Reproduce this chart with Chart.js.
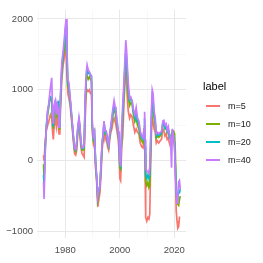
<!DOCTYPE html>
<html>
<head>
<meta charset="utf-8">
<script src="https://cdn.jsdelivr.net/npm/chart.js@4"></script>
<style>
  html, body { margin: 0; padding: 0; background: #fff; }
  #wrap { position: relative; width: 263px; height: 263px; font-family: "Liberation Sans", Arial, sans-serif; }
  #c { position: absolute; left: 0; top: 0; }
  .lg-title { position: absolute; left: 203px; top: 79px; font-size: 11px; line-height: 14px; color: #000; }
  .lg-item { position: absolute; left: 205px; height: 12px; width: 58px; }
  .lg-key { position: absolute; left: 1px; top: 5px; width: 14px; height: 0; border-top-style: solid; border-top-width: 2px; }
  .lg-text { position: absolute; left: 23px; top: 0; font-size: 9px; line-height: 12px; color: #1a1a1a; white-space: nowrap; }
</style>
</head>
<body>
<div id="wrap">
  <canvas id="c" width="263" height="263"></canvas>
  <div id="legend"></div>
</div>
<script>
const legendTitle = "label";
const seriesLabels = ["m=5", "m=10", "m=20", "m=40"];
const seriesColors = ["#F8766D", "#7CAE00", "#00BFC4", "#C77CFF"];
const yTickValues = [-1000, -500, 0, 500, 1000, 1500, 2000];
const xTickValues = [1970, 1980, 1990, 2000, 2010, 2020];

const years = [1972.0,1972.2,1972.6,1973.0,1973.5,1973.9,1974.3,1974.6,1975.0,1975.3,1975.6,1975.9,1976.3,1976.7,1977.0,1977.4,1977.7,1978.0,1978.3,1978.7,1979.2,1979.6,1980.0,1980.3,1980.6,1980.9,1981.3,1981.7,1982.1,1982.5,1983.0,1983.4,1983.8,1984.2,1984.6,1985.0,1985.3,1985.7,1986.1,1986.5,1986.9,1987.3,1987.7,1988.0,1988.4,1988.8,1989.2,1989.6,1989.9,1990.3,1990.7,1991.1,1991.5,1991.9,1992.3,1992.7,1993.1,1993.5,1993.9,1994.2,1994.6,1995.0,1995.5,1995.9,1996.3,1996.7,1997.1,1997.5,1997.9,1998.3,1998.6,1999.0,1999.4,1999.7,2000.0,2000.3,2000.7,2001.1,2001.5,2001.9,2002.2,2002.5,2002.8,2003.1,2003.6,2004.0,2004.5,2005.0,2005.5,2006.0,2006.5,2007.0,2007.5,2008.0,2008.5,2008.9,2009.1,2009.3,2009.5,2009.9,2010.3,2010.7,2011.0,2011.3,2011.6,2011.9,2012.2,2012.6,2013.0,2013.4,2013.8,2014.3,2014.8,2015.3,2015.8,2016.2,2016.6,2017.0,2017.4,2017.8,2018.2,2018.6,2019.0,2019.3,2019.7,2020.1,2020.4,2020.7,2021.0,2021.3,2021.6,2021.9,2022.2];

const m5  = [80,0,250,420,500,550,620,650,600,420,300,500,600,480,600,500,380,450,800,1150,1350,1450,1600,1500,1200,950,880,800,650,480,250,100,80,150,400,480,420,200,100,80,50,600,950,1000,980,1000,950,950,400,250,350,-100,-300,-650,-550,-450,-200,150,300,450,300,350,200,150,300,400,450,550,600,550,500,400,300,150,-250,-280,200,350,800,1100,1250,1100,850,700,600,650,620,500,400,450,400,380,250,200,180,300,350,-200,-800,-850,-800,-820,-750,-100,400,600,550,450,400,250,280,250,280,300,450,420,350,380,300,320,250,200,250,350,300,200,-100,-700,-850,-950,-930,-800,-800];
const m10 = [-50,-250,200,450,650,750,850,870,850,600,450,650,750,600,720,650,450,600,900,1250,1450,1550,1750,1700,1400,1050,1000,880,700,520,300,150,130,230,450,550,480,250,150,150,160,800,1150,1200,1150,1180,1150,1120,480,300,380,-50,-250,-550,-450,-350,-100,220,350,520,380,400,250,200,350,450,550,650,720,700,600,500,380,250,-100,-120,350,600,950,1300,1450,1300,1100,900,780,820,800,650,550,600,500,450,320,280,250,400,500,100,-300,-350,-300,-380,-350,100,500,800,750,600,500,320,350,330,350,380,500,520,450,470,400,450,350,320,380,420,420,380,100,-450,-600,-600,-630,-550,-500];
const m20 = [-200,-350,150,470,700,780,880,900,880,620,480,720,830,800,820,830,480,620,950,1300,1500,1600,1850,1900,1500,1100,1050,900,720,550,320,170,150,260,470,580,500,270,170,170,190,850,1200,1280,1230,1240,1200,1180,500,330,390,-20,-220,-520,-420,-350,-80,240,380,540,400,410,260,210,370,470,580,700,780,720,650,540,400,280,-50,-80,400,700,1000,1350,1550,1450,1200,1000,850,870,840,700,600,680,550,520,380,320,300,450,600,200,-200,-250,-200,-250,-200,200,600,900,850,650,550,350,380,360,370,400,520,530,460,480,410,420,330,300,300,400,350,250,-100,-400,-550,-500,-450,-450,-400];
const m40 = [-300,-540,100,460,700,800,960,1050,1170,700,520,780,840,650,800,720,470,650,1000,1380,1550,1700,1900,2000,1600,1150,1100,920,750,560,330,180,160,280,480,610,520,280,190,180,220,900,1250,1350,1280,1260,1220,1200,520,350,400,0,-230,-500,-400,-370,-50,250,400,560,420,420,280,220,380,490,620,750,850,760,700,560,420,300,0,-80,500,800,1100,1450,1700,1550,1300,1100,880,900,850,720,650,750,600,560,420,350,320,450,690,300,-100,-150,-150,-180,-80,300,700,1000,950,700,600,380,400,380,400,410,560,570,500,520,430,480,380,330,-100,450,350,200,-200,-450,-600,-480,-300,-280,-400];

const seriesValues = [m5, m10, m20, m40];

const datasets = seriesLabels.map((lab, i) => ({
  label: lab,
  data: years.map((yr, k) => ({ x: yr, y: seriesValues[i][k] })),
  borderColor: seriesColors[i],
  backgroundColor: seriesColors[i],
  borderWidth: 1.7,
  pointRadius: 0,
  tension: 0,
  fill: false,
  order: seriesLabels.length - i
}));

const tickFont = { family: "'Liberation Sans', Arial, sans-serif", size: 9.5 };

new Chart(document.getElementById('c'), {
  type: 'line',
  data: { datasets },
  options: {
    responsive: false,
    animation: false,
    devicePixelRatio: 1,
    layout: { padding: { left: 0, right: 77, top: 7, bottom: 0 } },
    plugins: { legend: { display: false }, tooltip: { enabled: false } },
    scales: {
      x: {
        type: 'linear',
        min: 1969.6,
        max: 2024.3,
        afterBuildTicks: s => { s.ticks = xTickValues.map(v => ({ value: v })); },
        afterFit: s => { s.height = 25; },
        border: { display: false },
        grid: {
          drawTicks: false,
          color: ctx => (ctx.tick && ctx.tick.value % 20 === 0) ? '#e8e8e8' : '#f3f3f3',
          lineWidth: ctx => (ctx.tick && ctx.tick.value % 20 === 0) ? 1 : 0.6
        },
        ticks: {
          padding: 7,
          color: '#4d4d4d',
          font: tickFont,
          maxRotation: 0,
          autoSkip: false,
          callback: v => (v % 20 === 0 ? String(v) : '')
        }
      },
      y: {
        type: 'linear',
        min: -1090,
        max: 2130,
        afterBuildTicks: s => { s.ticks = yTickValues.map(v => ({ value: v })); },
        afterFit: s => { s.width = 37; },
        border: { display: false },
        grid: {
          drawTicks: false,
          color: ctx => (ctx.tick && ctx.tick.value % 1000 === 0) ? '#e8e8e8' : '#f3f3f3',
          lineWidth: ctx => (ctx.tick && ctx.tick.value % 1000 === 0) ? 1 : 0.6
        },
        ticks: {
          padding: 4,
          color: '#4d4d4d',
          font: tickFont,
          autoSkip: false,
          callback: v => (v % 1000 === 0 ? (v < 0 ? '\u2212' + Math.abs(v) : String(v)) : '')
        }
      }
    }
  }
});

// HTML legend
const legend = document.getElementById('legend');
const t = document.createElement('div');
t.className = 'lg-title';
t.textContent = legendTitle;
legend.appendChild(t);
const itemTops = [99.5, 117.5, 135.5, 153.5];
seriesLabels.forEach((lab, i) => {
  const it = document.createElement('div');
  it.className = 'lg-item';
  it.style.top = itemTops[i] + 'px';
  const k = document.createElement('div');
  k.className = 'lg-key';
  k.style.borderTopColor = seriesColors[i];
  const tx = document.createElement('div');
  tx.className = 'lg-text';
  tx.textContent = lab;
  it.appendChild(k);
  it.appendChild(tx);
  legend.appendChild(it);
});
</script>
</body>
</html>
